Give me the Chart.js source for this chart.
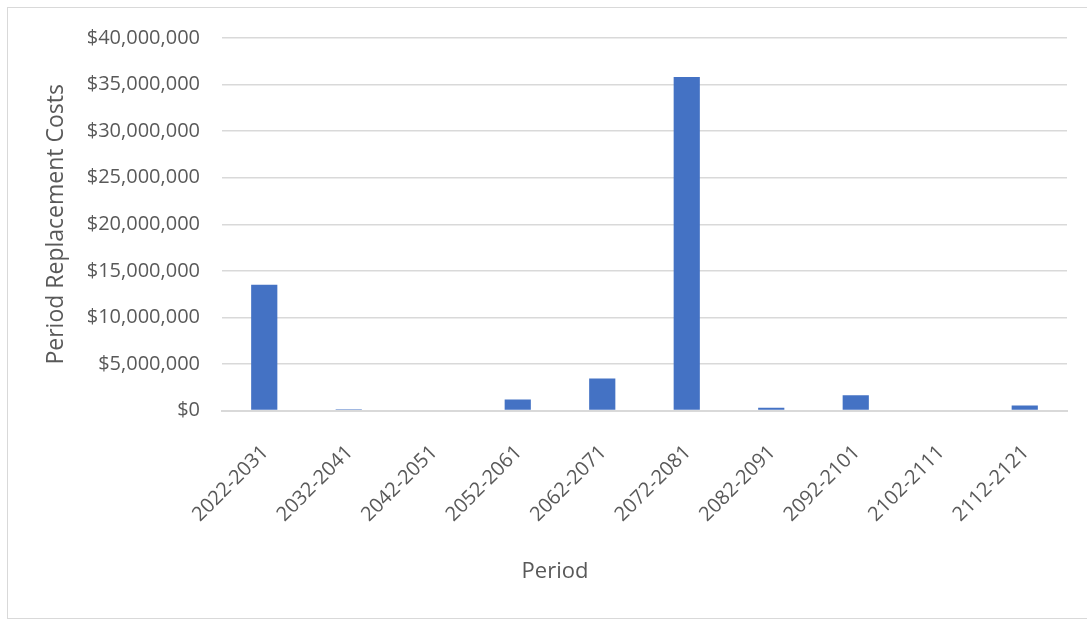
<!DOCTYPE html>
<html lang="en">
<head>
    <meta charset="UTF-8">
    <title>Period Replacement Costs</title>
    <script src="https://cdn.jsdelivr.net/npm/chart.js"></script>
    <style>
        body { margin: 0; background: #fff; }
        #frame {
            position: absolute; left: 7px; top: 7px;
            width: 1090px; height: 612px;
            border: 1px solid #d9d9d9; box-sizing: border-box;
        }
        canvas { display: block; margin-top: -4px; }
    </style>
</head>
<body>
<div id="frame"><canvas id="costChart" width="1088" height="614"></canvas></div>
<script>
const periods = ["2022-2031", "2032-2041", "2042-2051", "2052-2061", "2062-2071",
                 "2072-2081", "2082-2091", "2092-2101", "2102-2111", "2112-2121"];
const costs = [13500000, 150000, 0, 1200000, 3450000, 35800000, 300000, 1650000, 0, 560000];
const yTicks = { min: 0, max: 40000000, step: 5000000 };

const textColor = '#595959';
const fontFamily = "'Open Sans', 'Noto Sans', sans-serif";

const ctx = document.getElementById('costChart').getContext('2d');
new Chart(ctx, {
    type: 'bar',
    data: {
        labels: periods,
        datasets: [{
            label: 'Period Replacement Costs',
            data: costs,
            backgroundColor: '#4472c4',
            borderWidth: 0,
            barPercentage: 0.31,
            categoryPercentage: 1.0
        }]
    },
    options: {
        responsive: false,
        animation: false,
        layout: { padding: { left: 35, right: 29, top: 23, bottom: 0 } },
        plugins: {
            legend: { display: false },
            tooltip: { enabled: false },
            // chart title at the bottom stands in for the x-axis title, centred on the whole chart like Excel
            title: {
                display: true, position: 'bottom', text: 'Period', color: textColor,
                font: { family: fontFamily, size: 22, weight: 'normal' },
                padding: { top: 10, bottom: 33 }
            }
        },
        scales: {
            x: {
                grid: { display: false },
                border: { color: '#d9d9d9', width: 2 },
                ticks: {
                    color: textColor,
                    font: { family: fontFamily, size: 20 },
                    maxRotation: 45, minRotation: 45,
                    labelOffset: 1,
                    padding: 22
                },
                afterFit: s => { s.height = 138; }
            },
            y: {
                min: yTicks.min,
                max: yTicks.max,
                grid: { color: '#d9d9d9', lineWidth: 1.5, drawTicks: false },
                border: { display: false },
                ticks: {
                    stepSize: yTicks.step,
                    color: textColor,
                    font: { family: fontFamily, size: 20 },
                    padding: 22,
                    callback: v => '$' + v.toLocaleString('en-US')
                },
                title: {
                    display: true, text: 'Period Replacement Costs', color: textColor,
                    font: { family: fontFamily, size: 23 },
                    padding: 0
                },
                afterFit: s => { s.width = 179; }
            }
        }
    }
});
</script>
</body>
</html>
